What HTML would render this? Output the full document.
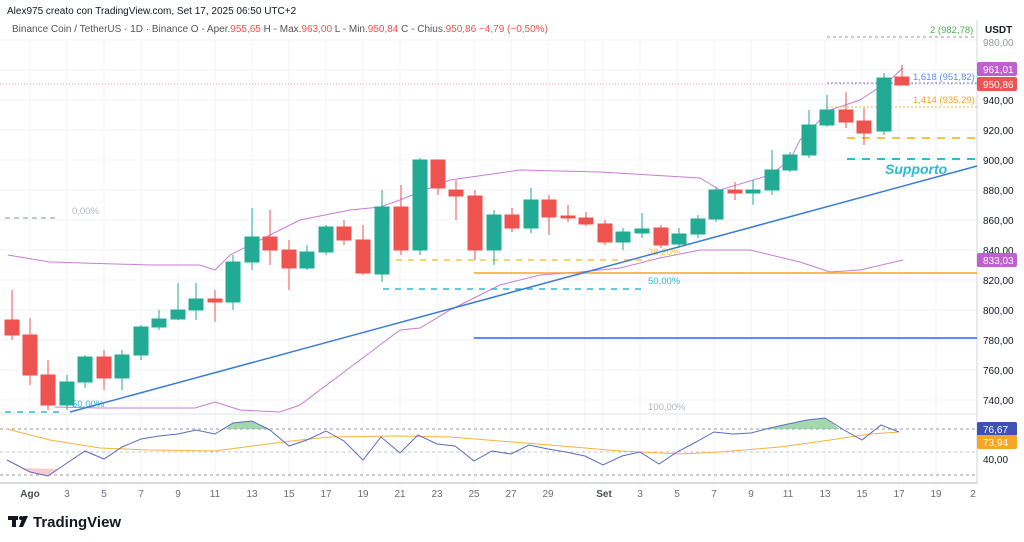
<!DOCTYPE html>
<html><head><meta charset="utf-8"><style>
body{margin:0;background:#fff;width:1024px;height:542px;overflow:hidden;font-family:"Liberation Sans",sans-serif}
svg{position:absolute;left:0;top:0}
text{font-family:"Liberation Sans",sans-serif}
</style></head><body>
<svg width="1024" height="542" viewBox="0 0 1024 542">
<rect width="1024" height="542" fill="#fff"/>
<!-- grid -->
<g stroke="#f0f3fa" stroke-width="1">
<line x1="0" y1="40" x2="977" y2="40"/><line x1="0" y1="70" x2="977" y2="70"/><line x1="0" y1="100" x2="977" y2="100"/><line x1="0" y1="130" x2="977" y2="130"/><line x1="0" y1="160" x2="977" y2="160"/><line x1="0" y1="190" x2="977" y2="190"/><line x1="0" y1="220" x2="977" y2="220"/><line x1="0" y1="250" x2="977" y2="250"/><line x1="0" y1="280" x2="977" y2="280"/><line x1="0" y1="310" x2="977" y2="310"/><line x1="0" y1="340" x2="977" y2="340"/><line x1="0" y1="370" x2="977" y2="370"/><line x1="0" y1="400" x2="977" y2="400"/>
<line x1="30" y1="40" x2="30" y2="483"/><line x1="67" y1="40" x2="67" y2="483"/><line x1="104" y1="40" x2="104" y2="483"/><line x1="141" y1="40" x2="141" y2="483"/><line x1="178" y1="40" x2="178" y2="483"/><line x1="215" y1="40" x2="215" y2="483"/><line x1="252" y1="40" x2="252" y2="483"/><line x1="289" y1="40" x2="289" y2="483"/><line x1="326" y1="40" x2="326" y2="483"/><line x1="363" y1="40" x2="363" y2="483"/><line x1="400" y1="40" x2="400" y2="483"/><line x1="437" y1="40" x2="437" y2="483"/><line x1="474" y1="40" x2="474" y2="483"/><line x1="511" y1="40" x2="511" y2="483"/><line x1="548" y1="40" x2="548" y2="483"/><line x1="585" y1="40" x2="585" y2="483"/><line x1="603" y1="40" x2="603" y2="483"/><line x1="640" y1="40" x2="640" y2="483"/><line x1="677" y1="40" x2="677" y2="483"/><line x1="714" y1="40" x2="714" y2="483"/><line x1="751" y1="40" x2="751" y2="483"/><line x1="788" y1="40" x2="788" y2="483"/><line x1="825" y1="40" x2="825" y2="483"/><line x1="862" y1="40" x2="862" y2="483"/><line x1="899" y1="40" x2="899" y2="483"/><line x1="936" y1="40" x2="936" y2="483"/>
</g>
<line x1="0" y1="414" x2="977" y2="414" stroke="#e0e3eb"/>
<!-- right axis -->
<line x1="977" y1="20" x2="977" y2="483" stroke="#d1d4dc"/>
<line x1="0" y1="483" x2="977" y2="483" stroke="#b2b5be"/>
<g font-size="10" fill="#131722">
<text x="985" y="33" font-size="10" font-weight="bold">USDT</text>
<text x="983" y="104">940,00</text><text x="983" y="134">920,00</text><text x="983" y="164">900,00</text><text x="983" y="194">880,00</text><text x="983" y="224">860,00</text><text x="983" y="254">840,00</text><text x="983" y="284">820,00</text><text x="983" y="314">800,00</text><text x="983" y="344">780,00</text><text x="983" y="374">760,00</text><text x="983" y="404">740,00</text><text x="983" y="463">40,00</text>
<text x="983" y="46" fill="#9598a1">980,00</text>
</g>
<!-- bollinger -->
<g fill="none" stroke="#c77dd6" stroke-width="1">
<polyline points="8,255 50,262 150,265 200,265 215,270 230,255 260,240 300,220 350,210 380,207 400,200 430,188 450,180 520,170 600,172 700,178 720,190 770,175 790,160 800,140 830,110 860,100 890,80 903,68"/>
<polyline points="55,407 100,408 150,408 195,408 215,402 240,410 280,412 300,405 340,375 380,345 400,330 420,328 450,310 480,295 500,285 540,275 580,272 620,268 660,258 700,250 750,250 800,262 830,272 860,270 903,260"/>
</g>
<!-- horizontal levels -->
<line x1="474" y1="273" x2="977" y2="273" stroke="#f5a623" stroke-width="1.5"/>
<line x1="474" y1="338" x2="977" y2="338" stroke="#2962ff" stroke-width="1.5"/>
<line x1="0" y1="84" x2="977" y2="84" stroke="#f7a1aa" stroke-width="1" stroke-dasharray="1,2"/>
<line x1="827" y1="37" x2="977" y2="37" stroke="#9598a1" stroke-dasharray="3,3"/>
<line x1="827" y1="83" x2="977" y2="83" stroke="#5b8def" stroke-dasharray="2,2"/>
<line x1="827" y1="107" x2="977" y2="107" stroke="#f5b342" stroke-dasharray="2,2"/>
<line x1="847" y1="138" x2="977" y2="138" stroke="#f5c542" stroke-width="2" stroke-dasharray="8,7"/>
<line x1="847" y1="159" x2="977" y2="159" stroke="#2bbcd1" stroke-width="2" stroke-dasharray="8,7"/>
<line x1="396" y1="260" x2="650" y2="260" stroke="#f5c542" stroke-width="1.5" stroke-dasharray="6,6"/>
<line x1="383" y1="289" x2="645" y2="289" stroke="#2bbcd1" stroke-width="1.5" stroke-dasharray="6,6"/>
<line x1="5" y1="412" x2="65" y2="412" stroke="#2bbcd1" stroke-width="1.5" stroke-dasharray="6,6"/>
<line x1="5" y1="218" x2="55" y2="218" stroke="#b2b5be" stroke-width="1.5" stroke-dasharray="5,4"/>
<g font-size="9.5">
<text x="72" y="214" fill="#b2b5be">0,00%</text>
<text x="72" y="407" fill="#2bbcd1">50,00%</text>
<text x="648" y="284" fill="#2bbcd1">50,00%</text>
<text x="648" y="255" fill="#f5c542">38,20%</text>
<text x="648" y="410" fill="#b2b5be">100,00%</text>
<text x="930" y="33" fill="#4caf50">2 (982,78)</text>
<text x="913" y="80" fill="#5b8def">1,618 (951,82)</text>
<text x="913" y="103" fill="#f5a623">1,414 (935,29)</text>
</g>
<text x="885" y="174" fill="#2bbcd1" font-size="14" font-style="italic" font-weight="bold">Supporto</text>
<!-- trend line -->
<line x1="70" y1="412" x2="977" y2="166" stroke="#3a7bd5" stroke-width="1.5"/>
<!-- candles -->
<g stroke-width="1">
<g stroke="#ef5350" fill="#ef5350">
<line x1="12" y1="290" x2="12" y2="340"/><rect x="5" y="320" width="14" height="15"/>
<line x1="30" y1="318" x2="30" y2="385"/><rect x="23" y="335" width="14" height="40"/>
<line x1="48" y1="360" x2="48" y2="410"/><rect x="41" y="375" width="14" height="30"/>
<line x1="104" y1="350" x2="104" y2="390"/><rect x="97" y="357" width="14" height="21"/>
<line x1="215" y1="290" x2="215" y2="322"/><rect x="208" y="299" width="14" height="3"/>
<line x1="270" y1="210" x2="270" y2="265"/><rect x="263" y="237" width="14" height="13"/>
<line x1="289" y1="240" x2="289" y2="290"/><rect x="282" y="250" width="14" height="18"/>
<line x1="344" y1="220" x2="344" y2="245"/><rect x="337" y="227" width="14" height="13"/>
<line x1="363" y1="225" x2="363" y2="275"/><rect x="356" y="240" width="14" height="33"/>
<line x1="401" y1="185" x2="401" y2="255"/><rect x="394" y="207" width="14" height="43"/>
<line x1="438" y1="160" x2="438" y2="195"/><rect x="431" y="160" width="14" height="28"/>
<line x1="456" y1="180" x2="456" y2="220"/><rect x="449" y="190" width="14" height="6"/>
<line x1="475" y1="190" x2="475" y2="260"/><rect x="468" y="196" width="14" height="54"/>
<line x1="512" y1="208" x2="512" y2="232"/><rect x="505" y="215" width="14" height="13"/>
<line x1="549" y1="195" x2="549" y2="235"/><rect x="542" y="200" width="14" height="17"/>
<line x1="568" y1="205" x2="568" y2="222"/><rect x="561" y="216" width="14" height="2"/>
<line x1="586" y1="212" x2="586" y2="226"/><rect x="579" y="218" width="14" height="6"/>
<line x1="605" y1="220" x2="605" y2="245"/><rect x="598" y="224" width="14" height="18"/>
<line x1="661" y1="225" x2="661" y2="248"/><rect x="654" y="228" width="14" height="17"/>
<line x1="735" y1="182" x2="735" y2="200"/><rect x="728" y="190" width="14" height="3"/>
<line x1="846" y1="92" x2="846" y2="128"/><rect x="839" y="110" width="14" height="12"/>
<line x1="864" y1="108" x2="864" y2="145"/><rect x="857" y="121" width="14" height="12"/>
<line x1="902" y1="65" x2="902" y2="85"/><rect x="895" y="77" width="14" height="8"/>
</g>
<g stroke="#22ab94" fill="#22ab94">
<line x1="67" y1="375" x2="67" y2="410"/><rect x="60" y="382" width="14" height="23"/>
<line x1="85" y1="355" x2="85" y2="388"/><rect x="78" y="357" width="14" height="25"/>
<line x1="122" y1="350" x2="122" y2="390"/><rect x="115" y="355" width="14" height="23"/>
<line x1="141" y1="325" x2="141" y2="360"/><rect x="134" y="327" width="14" height="28"/>
<line x1="159" y1="310" x2="159" y2="330"/><rect x="152" y="319" width="14" height="8"/>
<line x1="178" y1="283" x2="178" y2="320"/><rect x="171" y="310" width="14" height="9"/>
<line x1="196" y1="283" x2="196" y2="320"/><rect x="189" y="299" width="14" height="11"/>
<line x1="233" y1="255" x2="233" y2="310"/><rect x="226" y="262" width="14" height="40"/>
<line x1="252" y1="208" x2="252" y2="270"/><rect x="245" y="237" width="14" height="25"/>
<line x1="307" y1="245" x2="307" y2="270"/><rect x="300" y="252" width="14" height="16"/>
<line x1="326" y1="225" x2="326" y2="255"/><rect x="319" y="227" width="14" height="25"/>
<line x1="382" y1="190" x2="382" y2="282"/><rect x="375" y="207" width="14" height="67"/>
<line x1="420" y1="158" x2="420" y2="255"/><rect x="413" y="160" width="14" height="90"/>
<line x1="494" y1="210" x2="494" y2="265"/><rect x="487" y="215" width="14" height="35"/>
<line x1="531" y1="188" x2="531" y2="233"/><rect x="524" y="200" width="14" height="28"/>
<line x1="623" y1="228" x2="623" y2="250"/><rect x="616" y="232" width="14" height="10"/>
<line x1="642" y1="213" x2="642" y2="238"/><rect x="635" y="229" width="14" height="4"/>
<line x1="679" y1="228" x2="679" y2="248"/><rect x="672" y="234" width="14" height="10"/>
<line x1="698" y1="215" x2="698" y2="238"/><rect x="691" y="219" width="14" height="15"/>
<line x1="716" y1="188" x2="716" y2="222"/><rect x="709" y="190" width="14" height="29"/>
<line x1="753" y1="180" x2="753" y2="205"/><rect x="746" y="190" width="14" height="3"/>
<line x1="772" y1="150" x2="772" y2="195"/><rect x="765" y="170" width="14" height="20"/>
<line x1="790" y1="152" x2="790" y2="172"/><rect x="783" y="155" width="14" height="15"/>
<line x1="809" y1="110" x2="809" y2="158"/><rect x="802" y="125" width="14" height="30"/>
<line x1="827" y1="95" x2="827" y2="127"/><rect x="820" y="110" width="14" height="15"/>
<line x1="884" y1="73" x2="884" y2="135"/><rect x="877" y="78" width="14" height="53"/>
</g>
</g>
<!-- oscillator -->
<line x1="0" y1="429" x2="977" y2="429" stroke="#9598a1" stroke-dasharray="3,3"/>
<line x1="0" y1="452" x2="977" y2="452" stroke="#c0c3cb" stroke-dasharray="3,3"/>
<line x1="0" y1="475" x2="977" y2="475" stroke="#9598a1" stroke-dasharray="3,3"/>
<polygon points="225,429 233,423 252,421 270,429" fill="#7cc68a" opacity="0.7"/>
<polygon points="755,429 770,428 788,424 807,420 825,418 840,429" fill="#7cc68a" opacity="0.7"/>
<polygon points="22,468 30,472 48,476 58,469" fill="#f7b6bd" opacity="0.7"/>
<polyline fill="none" stroke="#f5b342" stroke-width="1" points="7,429 50,440 100,448 150,450 215,451 260,445 300,440 330,437 400,436 450,437 500,441 550,445 620,451 680,454 720,452 780,447 830,440 870,434 899,432"/>
<polyline fill="none" stroke="#5c6bc0" stroke-width="1" points="7,460 30,472 48,476 67,463 85,451 104,459 122,447 141,439 159,436 178,434 196,430 215,434 233,423 252,421 270,430 289,446 307,440 326,431 344,441 363,460 381,437 400,453 418,435 437,444 455,446 474,461 492,451 511,454 529,445 548,449 566,452 585,456 603,465 622,456 640,452 659,464 677,452 696,442 714,432 733,434 751,433 770,428 788,424 807,420 825,418 844,430 862,440 881,425 899,432"/>
<!-- tags -->
<rect x="977" y="62" width="40" height="14" rx="2" fill="#c060d0"/><text x="983" y="73" font-size="10" fill="#fff">961,01</text>
<rect x="977" y="77" width="40" height="14" rx="2" fill="#ef5350"/><text x="983" y="88" font-size="10" fill="#fff">950,86</text>
<rect x="977" y="253" width="40" height="14" rx="2" fill="#c060d0"/><text x="983" y="264" font-size="10" fill="#fff">833,03</text>
<rect x="977" y="422" width="40" height="14" rx="2" fill="#3f51b5"/><text x="983" y="433" font-size="10" fill="#fff">76,67</text>
<rect x="977" y="435" width="40" height="14" rx="2" fill="#f5a623"/><text x="983" y="446" font-size="10" fill="#fff">73,94</text>
<!-- x labels -->
<g font-size="10" fill="#6a6d78" text-anchor="middle">
<text x="30" y="497" font-weight="bold" fill="#4a4d58">Ago</text><text x="67" y="497">3</text><text x="104" y="497">5</text><text x="141" y="497">7</text><text x="178" y="497">9</text><text x="215" y="497">11</text><text x="252" y="497">13</text><text x="289" y="497">15</text><text x="326" y="497">17</text><text x="363" y="497">19</text><text x="400" y="497">21</text><text x="437" y="497">23</text><text x="474" y="497">25</text><text x="511" y="497">27</text><text x="548" y="497">29</text><text x="604" y="497" font-weight="bold" fill="#4a4d58">Set</text><text x="640" y="497">3</text><text x="677" y="497">5</text><text x="714" y="497">7</text><text x="751" y="497">9</text><text x="788" y="497">11</text><text x="825" y="497">13</text><text x="862" y="497">15</text><text x="899" y="497">17</text><text x="936" y="497">19</text><text x="973" y="497">2</text>
</g>
<!-- header -->
<text x="7" y="14" font-size="10" fill="#131722">Alex975 creato con TradingView.com, Set 17, 2025 06:50 UTC+2</text>
<text x="12" y="32" font-size="10" fill="#555"><tspan>Binance Coin / TetherUS · 1D · Binance  O - Aper.</tspan><tspan fill="#ef5350">955,65</tspan><tspan>  H - Max.</tspan><tspan fill="#ef5350">963,00</tspan><tspan>  L - Min.</tspan><tspan fill="#ef5350">950,84</tspan><tspan>  C - Chius.</tspan><tspan fill="#ef5350">950,86  −4,79 (−0,50%)</tspan></text>
<!-- logo -->
<g fill="#131722"><rect x="8" y="516" width="10" height="4"/><rect x="12" y="516" width="4" height="11"/><circle cx="21" cy="518" r="2"/><polygon points="23,516 28,516 23,527 19,527"/></g>
<text x="33" y="527" font-size="15" font-weight="bold" fill="#131722">TradingView</text>
</svg>
</body></html>
